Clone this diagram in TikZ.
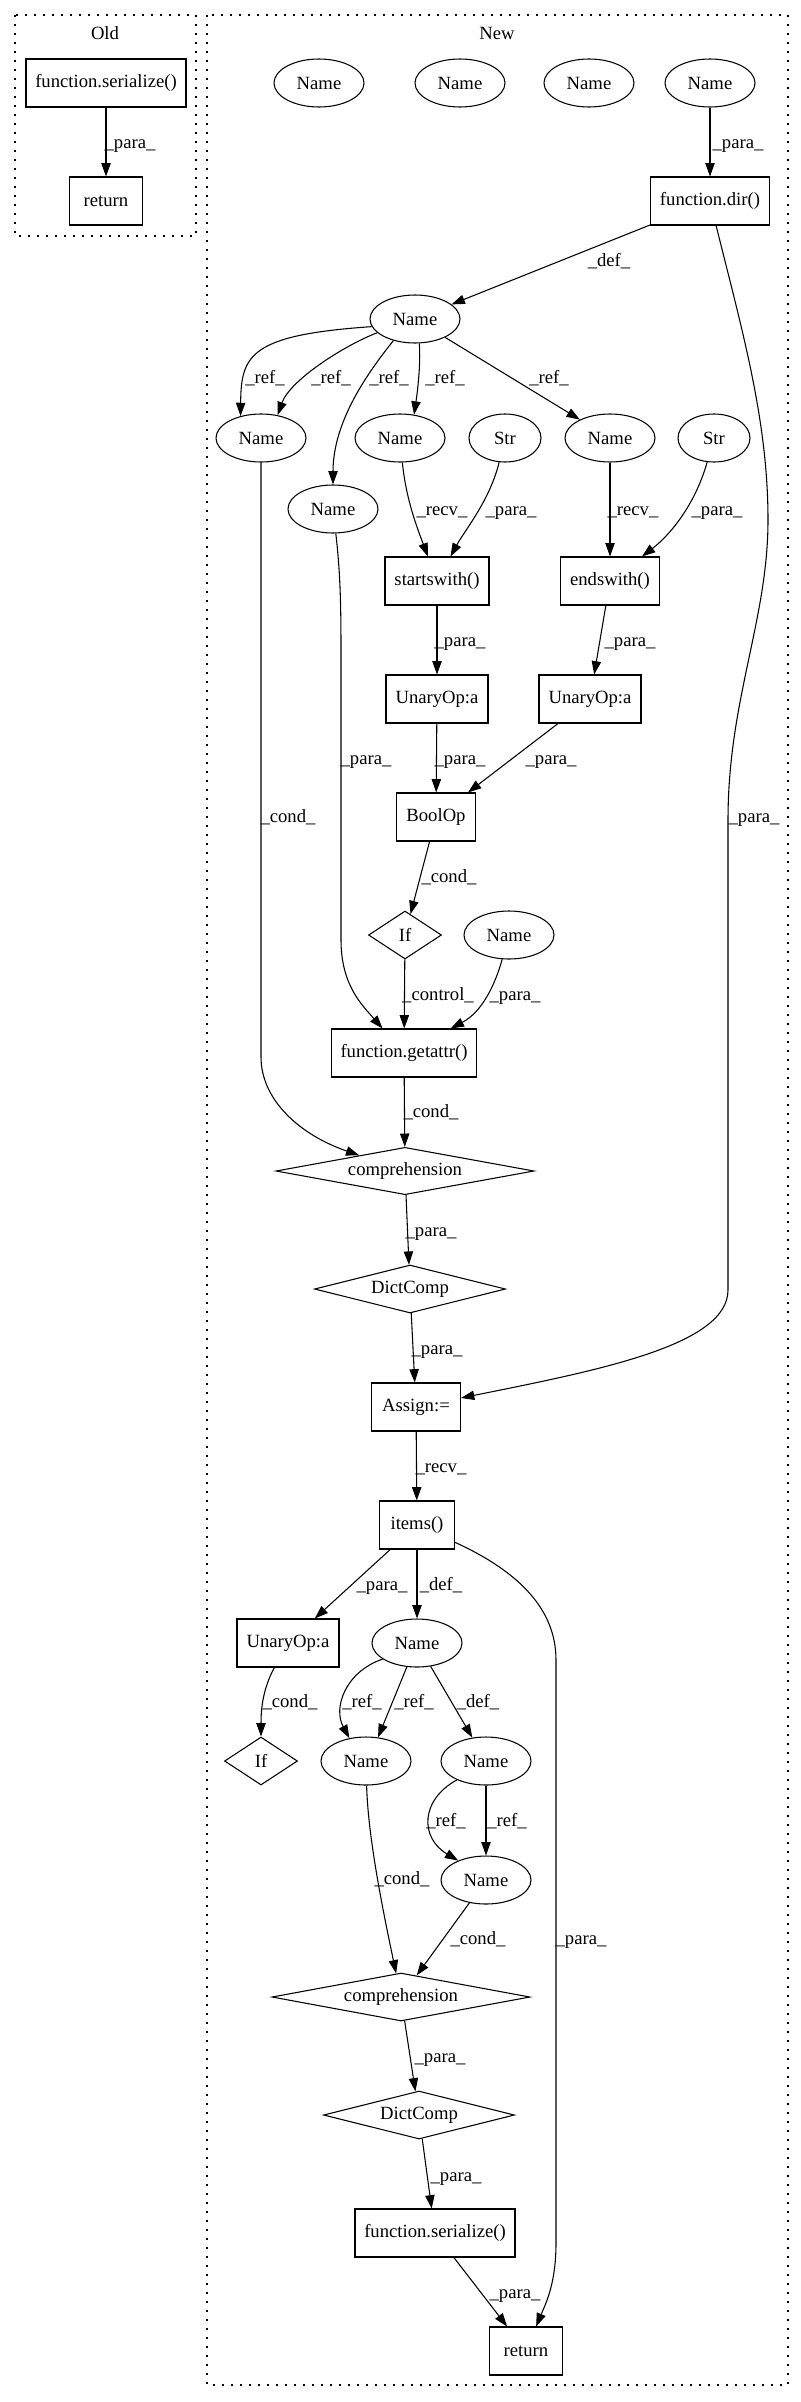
\documentclass[tikz,border=0pt]{standalone}
\usepackage{fontspec}
\setmainfont{Liberation Serif}
\usetikzlibrary{shapes.geometric,arrows.meta}
\newcommand\gvfont{\fontsize{14pt}{16pt}\selectfont}
\tikzset{
  every node/.style={font=\gvfont},
  gbox/.style={draw, rectangle, line width=0.8pt, minimum height=36pt, inner sep=0pt},
  ell/.style={draw, ellipse, line width=0.8pt, minimum height=36pt, minimum width=67.5pt, inner sep=0pt},
  dia/.style={draw, diamond, line width=0.8pt, inner sep=0pt},
  lbl/.style={inner sep=0pt, anchor=base},
  conn/.style={-{Triangle[length=10pt,width=7pt]}, line width=0.8pt},
  clus/.style={draw, line width=0.8pt, dash pattern=on 1.2pt off 5.55pt},
}
\begin{document}
\begin{tikzpicture}[x=0.75pt,y=-0.75pt]
\useasboundingbox (0,0) rectangle (800,2402);
% clusters
\draw[clus] (15,15) rectangle (196,236);
\draw[clus] (207,15) rectangle (788,2385);
\node (oldlbl) at (105,33) {Old};
\node (newlbl) at (497,33) {New};
% Old nodes
\node[gbox, minimum width=120pt] (oser) at (106,83) {function.serialize()};
\node[gbox, minimum width=54.75pt] (oret) at (106,201) {return};
% New nodes
\node[ell] (n1) at (319,83) {Name};
\node[ell] (n2) at (460,83) {Name};
\node[ell] (n3) at (589,83) {Name};
\node[ell] (n4) at (710,83) {Name};
\node[gbox, minimum width=89.25pt] (dir) at (710,201) {function.dir()};
\node[ell] (nd) at (415,319) {Name};
\node[ell] (na) at (261,438) {Name};
\node[ell] (nb) at (400,438) {Name};
\node[ell, minimum width=54pt] (s1) at (505,438) {Str};
\node[ell] (nc) at (610,438) {Name};
\node[ell, minimum width=54pt] (s2) at (714,438) {Str};
\node[ell] (ndd) at (333,509) {Name};
\node[gbox, minimum width=78pt] (sw) at (437,581) {startswith()};
\node[gbox, minimum width=74.25pt] (ew) at (610,581) {endswith()};
\node[gbox, minimum width=76.5pt] (u1) at (437,699) {UnaryOp:a};
\node[gbox, minimum width=76.5pt] (u2) at (590,699) {UnaryOp:a};
\node[gbox, minimum width=59.25pt] (bo) at (436,817) {BoolOp};
\node[dia, minimum width=54.75pt, minimum height=36pt, shape aspect=1.52] (if1) at (405,935) {If};
\node[ell] (nsm) at (509,935) {Name};
\node[gbox, minimum width=108.75pt] (ga) at (404,1053) {function.getattr()};
\node[dia, minimum width=193.5pt, minimum height=35.5pt, shape aspect=5.4] (c1) at (405,1171) {comprehension};
\node[dia, minimum width=143.25pt, minimum height=36pt, shape aspect=3.98] (dc1) at (410,1289) {DictComp};
\node[gbox, minimum width=66.75pt] (as) at (416,1407) {Assign:=};
\node[gbox, minimum width=56.25pt] (it) at (417,1525) {items()};
\node[gbox, minimum width=76.5pt] (u3) at (288,1643) {UnaryOp:a};
\node[ell] (ne) at (417,1643) {Name};
\node[dia, minimum width=54.75pt, minimum height=36pt, shape aspect=1.52] (if2) at (261,1761) {If};
\node[ell] (nf) at (366,1761) {Name};
\node[ell] (ng) at (486,1761) {Name};
\node[ell] (nh) at (486,1880) {Name};
\node[dia, minimum width=193.5pt, minimum height=36pt, shape aspect=5.4] (c2) at (401,1997) {comprehension};
\node[dia, minimum width=143.25pt, minimum height=36pt, shape aspect=3.98] (dc2) at (419,2115) {DictComp};
\node[gbox, minimum width=120pt] (ser2) at (435,2233) {function.serialize()};
\node[gbox, minimum width=54.75pt] (ret2) at (526,2351) {return};
% edges
\draw[conn] (oser) -- (oret);
\draw[conn] (n4) -- (dir);
\draw[conn] (dir) -- (nd);
\draw[conn] (dir) .. controls (742,330) and (768,420) .. (768,520)
   .. controls (768,620) and (728,700) .. (728,820) -- (728,1290)
   .. controls (728,1345) and (600,1370) .. (as);
\draw[conn] (nd.190) .. controls (250,335) and (241,355) .. (na.133);
\draw[conn] (nd.200) .. controls (345,345) and (290,380) .. (na.54);
\draw[conn] (nd.225) .. controls (370,370) and (333,420) .. (ndd.north);
\draw[conn] (nd.280) .. controls (421,365) and (417,395) .. (nb.59);
\draw[conn] (nd) -- (nc);
\draw[conn] (na.south) -- (261,1057) .. controls (261,1100) and (300,1135) .. (c1);
\draw[conn] (ndd) .. controls (340,570) and (341,600) .. (341,650) -- (341,940)
   .. controls (341,985) and (362,1005) .. (ga);
\draw[conn] (nb) .. controls (406,500) and (418,530) .. (sw);
\draw[conn] (s1) .. controls (490,500) and (465,530) .. (sw);
\draw[conn] (nc) -- (ew);
\draw[conn] (s2) .. controls (695,505) and (670,535) .. (ew);
\draw[conn] (sw) -- (u1);
\draw[conn] (ew) -- (u2);
\draw[conn] (u1) -- (bo);
\draw[conn] (u2) -- (bo);
\draw[conn] (bo) -- (if1);
\draw[conn] (if1) -- (ga);
\draw[conn] (nsm) .. controls (495,985) and (482,1012) .. (ga);
\draw[conn] (ga) -- (c1);
\draw[conn] (c1) -- (dc1);
\draw[conn] (dc1) -- (as);
\draw[conn] (as) -- (it);
\draw[conn] (it) -- (u3);
\draw[conn] (it) -- (ne);
\draw[conn] (it) .. controls (520,1572) and (556,1610) .. (556,1660) -- (556,2243)
   .. controls (556,2285) and (545,2305) .. (ret2);
\draw[conn] (u3) .. controls (262,1690) and (261,1712) .. (if2);
\draw[conn] (ne.205) .. controls (345,1672) and (333,1708) .. (nf.126);
\draw[conn] (ne.247) -- (nf.63);
\draw[conn] (ne) -- (ng);
\draw[conn] (ng.213) .. controls (420,1800) and (420,1838) .. (nh.145);
\draw[conn] (ng) -- (nh);
\draw[conn] (nf) .. controls (368,1840) and (385,1920) .. (c2);
\draw[conn] (nh) -- (c2);
\draw[conn] (c2) -- (dc2);
\draw[conn] (dc2) -- (ser2);
\draw[conn] (ser2) -- (ret2);
% edge labels
\node[lbl] (l1) at (130,148) {\_para\_};
\node[lbl] (l2) at (738,148) {\_para\_};
\node[lbl] (l3) at (609,266) {\_def\_};
\node[lbl] (l4) at (265,383) {\_ref\_};
\node[lbl] (l5) at (331,383) {\_ref\_};
\node[lbl] (l6) at (389,383) {\_ref\_};
\node[lbl] (l7) at (445,383) {\_ref\_};
\node[lbl] (l8) at (549,383) {\_ref\_};
\node[lbl] (l9) at (442,515) {\_recv\_};
\node[lbl] (l10) at (511,515) {\_para\_};
\node[lbl] (l11) at (633,515) {\_recv\_};
\node[lbl] (l12) at (717,515) {\_para\_};
\node[lbl] (l13) at (460,646) {\_para\_};
\node[lbl] (l14) at (630,646) {\_para\_};
\node[lbl] (l15) at (366,764) {\_para\_};
\node[lbl] (l16) at (460,764) {\_para\_};
\node[lbl] (l17) at (551,764) {\_para\_};
\node[lbl] (l18) at (288,822) {\_cond\_};
\node[lbl] (l19) at (754,822) {\_para\_};
\node[lbl] (l20) at (449,882) {\_cond\_};
\node[lbl] (l21) at (438,1000) {\_control\_};
\node[lbl] (l22) at (515,1000) {\_para\_};
\node[lbl] (l23) at (431,1117) {\_cond\_};
\node[lbl] (l24) at (431,1236) {\_para\_};
\node[lbl] (l25) at (437,1354) {\_para\_};
\node[lbl] (l26) at (441,1472) {\_recv\_};
\node[lbl] (l27) at (382,1590) {\_para\_};
\node[lbl] (l28) at (441,1590) {\_def\_};
\node[lbl] (l29) at (290,1707) {\_cond\_};
\node[lbl] (l30) at (362,1707) {\_ref\_};
\node[lbl] (l31) at (414,1707) {\_ref\_};
\node[lbl] (l32) at (478,1707) {\_def\_};
\node[lbl] (l33) at (446,1826) {\_ref\_};
\node[lbl] (l34) at (507,1826) {\_ref\_};
\node[lbl] (l35) at (402,1884) {\_cond\_};
\node[lbl] (l36) at (478,1944) {\_cond\_};
\node[lbl] (l37) at (581,1944) {\_para\_};
\node[lbl] (l38) at (440,2062) {\_para\_};
\node[lbl] (l39) at (456,2181) {\_para\_};
\node[lbl] (l40) at (515,2298) {\_para\_};
\end{tikzpicture}
\end{document}
